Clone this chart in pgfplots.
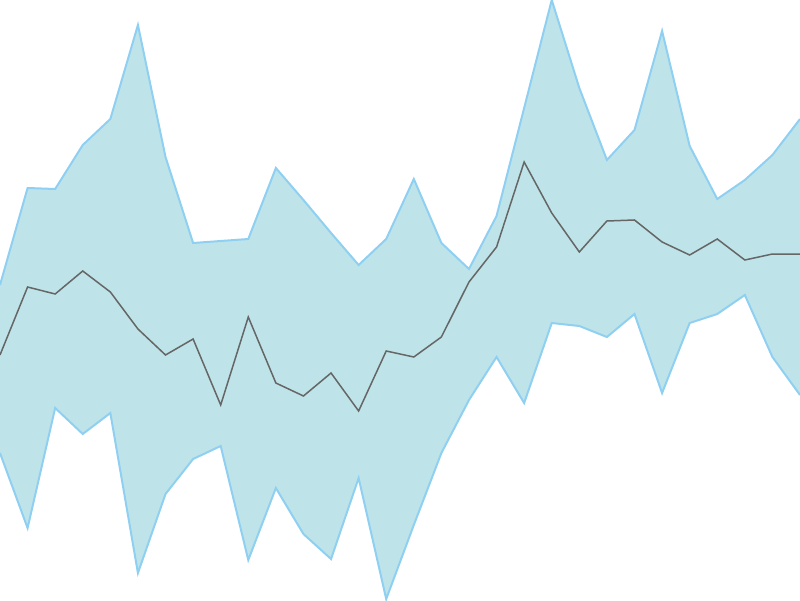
\documentclass[border=0pt]{standalone}
\usepackage{pgfplots}
\pgfplotsset{compat=1.18}
\usepgfplotslibrary{fillbetween}
\definecolor{bandfill}{HTML}{BEE4E9}
\definecolor{bandline}{HTML}{8FD0F2}
\definecolor{midline}{HTML}{666666}

\begin{document}
\begin{tikzpicture}
\begin{axis}[
  width=400pt, height=300pt, scale only axis,
  hide axis,
  xmin=0, xmax=29, ymin=0, ymax=600,
  y dir=reverse,
  clip=true,
]
% upper bound (pixel rows of the reference)
\addplot[name path=upper, draw=none] coordinates {
(0,285) (1,188) (2,189) (3,145) (4,119) (5,25) (6,157) (7,243) (8,241) (9,239)
(10,168) (11,200) (12,233) (13,265) (14,239) (15,179) (16,243) (17,269) (18,216) (19,108)
(20,0) (21,88) (22,160) (23,130) (24,31) (25,146) (26,199) (27,180) (28,155) (29,119)
};
% lower bound
\addplot[name path=lower, draw=none] coordinates {
(0,453) (1,528) (2,408) (3,434) (4,413) (5,573) (6,494) (7,459) (8,446) (9,560)
(10,488) (11,534) (12,559) (13,478) (14,599) (15,525) (16,453) (17,400) (18,357) (19,403)
(20,323) (21,326) (22,337) (23,314) (24,393) (25,323) (26,314) (27,295) (28,357) (29,395)
};
\addplot[bandfill] fill between[of=upper and lower];
% bounds drawn above the fill
\addplot[color=bandline, line width=1pt] coordinates {
(0,285) (1,188) (2,189) (3,145) (4,119) (5,25) (6,157) (7,243) (8,241) (9,239)
(10,168) (11,200) (12,233) (13,265) (14,239) (15,179) (16,243) (17,269) (18,216) (19,108)
(20,0) (21,88) (22,160) (23,130) (24,31) (25,146) (26,199) (27,180) (28,155) (29,119)
};
\addplot[color=bandline, line width=1pt] coordinates {
(0,453) (1,528) (2,408) (3,434) (4,413) (5,573) (6,494) (7,459) (8,446) (9,560)
(10,488) (11,534) (12,559) (13,478) (14,599) (15,525) (16,453) (17,400) (18,357) (19,403)
(20,323) (21,326) (22,337) (23,314) (24,393) (25,323) (26,314) (27,295) (28,357) (29,395)
};
% middle line
\addplot[color=midline, line width=0.75pt] coordinates {
(0,355) (1,287) (2,294) (3,271) (4,292) (5,329) (6,355) (7,339) (8,405) (9,317)
(10,383) (11,396) (12,373) (13,411) (14,351) (15,357) (16,337) (17,282) (18,247) (19,162)
(20,213) (21,252) (22,221) (23,220) (24,242) (25,255) (26,239) (27,260) (28,254) (29,254)
};
\end{axis}
\end{tikzpicture}
\end{document}
